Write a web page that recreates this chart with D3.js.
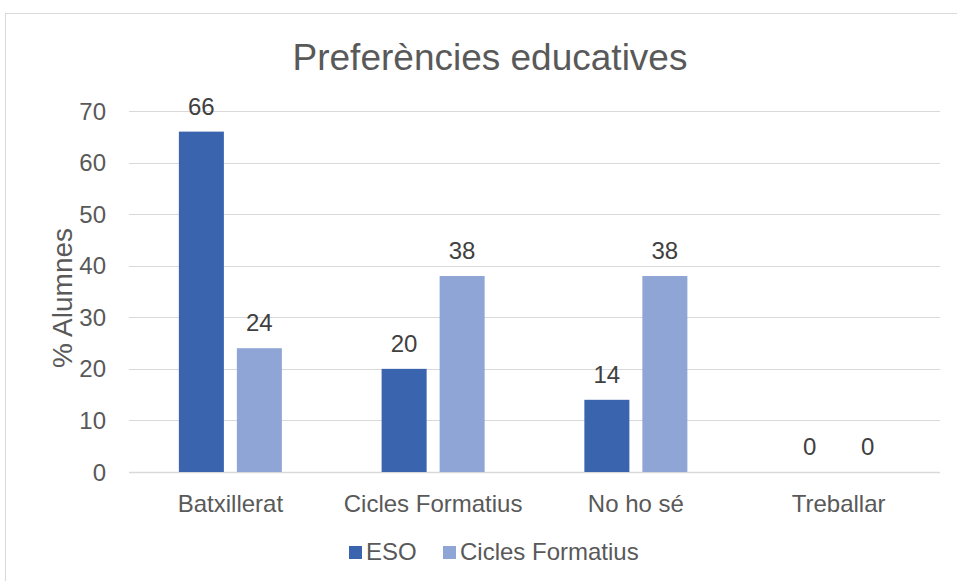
<!DOCTYPE html>
<html><head><meta charset="utf-8">
<script src="https://cdn.jsdelivr.net/npm/d3@7"></script>
<style>body{margin:0;background:#fff;} svg{display:block;font-family:Arial,"Liberation Sans",sans-serif;}</style>
</head><body>
<svg id="c" width="957" height="581"></svg>
<script>
const categories = ["Batxillerat","Cicles Formatius","No ho sé","Treballar"];
const seriesNames = ["ESO","Cicles Formatius"];
const esoValues = [66,20,14,0];
const cfValues = [24,38,38,0];
const yTicks = [0,10,20,30,40,50,60,70];
const colors = ["#3A64AD","#8FA5D6"];

(function(){
const svg = d3.select("#c");
svg.append("rect").attr("x",5.5).attr("y",13.5).attr("width",960).attr("height",580)
  .attr("fill","#fff").attr("stroke","#D9D9D9").attr("stroke-width",1);

const pL=129, pR=940, pT=111, pB=472;
const x = d3.scaleBand().domain(categories).range([pL,pR]);
const y = d3.scaleLinear().domain([0,70]).range([pB,pT]);

svg.append("text").attr("x",490).attr("y",70).attr("text-anchor","middle")
  .attr("font-size",37).attr("fill","#595959").text("Preferències educatives");

const g = svg.append("g");
g.selectAll("line.grid").data(yTicks).join("line")
  .attr("x1",pL).attr("x2",pR).attr("y1",d=>Math.round(y(d))+0.5).attr("y2",d=>Math.round(y(d))+0.5)
  .attr("stroke","#D9D9D9").attr("stroke-width",d=>d===0?1.5:1);
g.selectAll("text.yt").data(yTicks).join("text")
  .attr("x",106).attr("y",d=>y(d)+8.5).attr("text-anchor","end")
  .attr("font-size",24).attr("fill","#595959").text(d=>d);

svg.append("text").attr("transform","translate(72,298) rotate(-90)").attr("text-anchor","middle")
  .attr("font-size",28).attr("fill","#595959").text("% Alumnes");

const barW = 45, gap = 13;
const data = categories.map((c,i)=>({c, vals:[esoValues[i], cfValues[i]]}));
data.forEach(d=>{
  const cx = x(d.c)+x.bandwidth()/2;
  d.vals.forEach((v,j)=>{
    const bx = j===0 ? cx - gap/2 - barW : cx + gap/2;
    if (v>0) g.append("rect").attr("x",bx).attr("y",y(v)).attr("width",barW).attr("height",y(0)-y(v)).attr("fill",colors[j]);
    g.append("text").attr("x",bx+barW/2).attr("y",y(v)-17).attr("text-anchor","middle")
      .attr("font-size",24).attr("fill","#404040").text(v);
  });
  g.append("text").attr("x",cx).attr("y",512).attr("text-anchor","middle")
    .attr("font-size",24).attr("fill","#595959").text(d.c);
});

const leg = svg.append("g");
const items = [{n:seriesNames[0],x:349},{n:seriesNames[1],x:443}];
items.forEach((it,i)=>{
  leg.append("rect").attr("x",it.x).attr("y",546).attr("width",13).attr("height",13).attr("fill",colors[i]);
  leg.append("text").attr("x",it.x+17).attr("y",560).attr("font-size",24).attr("fill","#595959").text(it.n);
});
})();
</script>
</body></html>
